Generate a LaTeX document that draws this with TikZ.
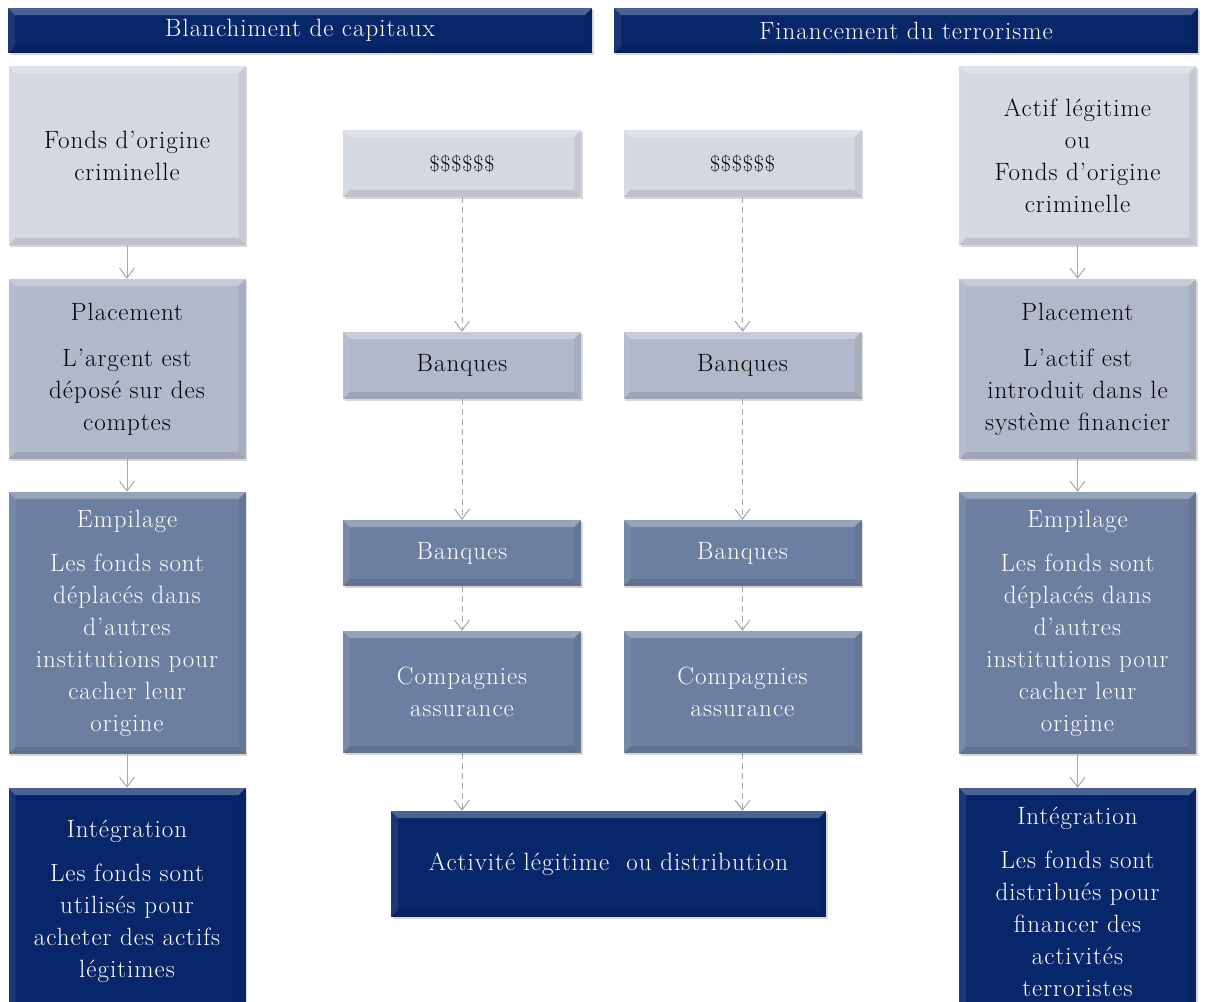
\documentclass[tikz,border=0pt]{standalone}
\usepackage{fontspec}
\setmainfont{Latin Modern Roman}[LetterSpace=4]
\usetikzlibrary{arrows.meta,shadows}
\definecolor{navy}{HTML}{08266A}
\definecolor{lightA}{HTML}{D3D8E1}
\definecolor{lightB}{HTML}{B1B8CA}
\definecolor{midC}{HTML}{6D7FA0}
\definecolor{arrowgray}{HTML}{A8A8A8}
\tikzset{
  bevel/.style={path picture={
    \fill[white,opacity=.28] (path picture bounding box.north west) -- (path picture bounding box.north east)
      -- ([shift={(-7pt,-7pt)}]path picture bounding box.north east) -- ([shift={(7pt,-7pt)}]path picture bounding box.north west) -- cycle;
    \fill[black,opacity=.10] (path picture bounding box.south west) -- (path picture bounding box.south east)
      -- ([shift={(-7pt,7pt)}]path picture bounding box.south east) -- ([shift={(7pt,7pt)}]path picture bounding box.south west) -- cycle;
    \fill[white,opacity=.08] (path picture bounding box.north west) -- ([shift={(7pt,-7pt)}]path picture bounding box.north west)
      -- ([shift={(7pt,7pt)}]path picture bounding box.south west) -- (path picture bounding box.south west) -- cycle;
    \fill[black,opacity=.06] (path picture bounding box.north east) -- ([shift={(-7pt,-7pt)}]path picture bounding box.north east)
      -- ([shift={(-7pt,7pt)}]path picture bounding box.south east) -- (path picture bounding box.south east) -- cycle;
  }},
  card/.style={rectangle, inner sep=0pt, align=center, bevel,
    drop shadow={shadow xshift=1.5pt, shadow yshift=-2pt, opacity=.25, fill=black!60},
    font=\fontsize{25}{32}\selectfont},
  lt/.style={card, text=black},
  dk/.style={card, text=white},
  header/.style={card, fill=navy, text=white, minimum width=584pt, minimum height=45pt,
    font=\fontsize{25}{28}\selectfont},
  side/.style={minimum width=237pt},
  mid/.style={minimum width=238pt},
  dollars/.style={font=\fontsize{22}{24}\selectfont},
  conn/.style={draw=arrowgray, line width=1pt, -{Straight Barb[length=10pt,width=15pt,line width=1pt]}},
  dconn/.style={conn, dash pattern=on 6pt off 4pt},
}
\begin{document}
\begin{tikzpicture}[x=1pt,y=-1pt]
\useasboundingbox[fill=white] (0,0) rectangle (1206,1001);

% headers
\node[header] (h1) at (300,30.5) {Blanchiment de capitaux};
\node[header] (h2) at (906,30.5) {Financement du terrorisme};

% left column
\node[lt, side, fill=lightA, minimum height=179pt] (L1) at (127,155.5) {Fonds d’origine\\criminelle};
\node[lt, side, fill=lightB, minimum height=180pt] (L2) at (127,369) {Placement\\[14pt]L’argent est\\déposé sur des\\comptes};
\node[dk, side, fill=midC, minimum height=262pt] (L3) at (127,623) {Empilage\\[12pt]Les fonds sont\\déplacés dans\\d’autres\\institutions pour\\cacher leur\\origine};
\node[dk, side, fill=navy, minimum height=227pt] (L4) at (127,901.5) {Intégration\\[12pt]Les fonds sont\\utilisés pour\\acheter des actifs\\légitimes};

% right column
\node[lt, side, fill=lightA, minimum height=179pt] (R1) at (1077.5,155.5) {Actif légitime\\ou\\Fonds d’origine\\criminelle};
\node[lt, side, fill=lightB, minimum height=180pt] (R2) at (1077.5,369) {Placement\\[14pt]L’actif est\\introduit dans le\\système financier};
\node[dk, side, fill=midC, minimum height=262pt] (R3) at (1077.5,623) {Empilage\\[12pt]Les fonds sont\\déplacés dans\\d’autres\\institutions pour\\cacher leur\\origine};
\node[dk, side, fill=navy, minimum height=227pt] (R4) at (1077.5,901.5) {Intégration\\[12pt]Les fonds sont\\distribués pour\\financer des\\activités\\terroristes};

% middle column A
\node[lt, mid, dollars, fill=lightA, minimum height=67pt] (A1) at (462,163.5) {\$\$\$\$\$\$};
\node[lt, mid, fill=lightB, minimum height=67pt] (A2) at (462,365.5) {Banques};
\node[dk, mid, fill=midC, minimum height=66pt] (A3) at (462,553) {Banques};
\node[dk, mid, fill=midC, minimum height=122pt] (A4) at (462,692) {Compagnies\\assurance};

% middle column B
\node[lt, mid, dollars, fill=lightA, minimum height=67pt] (B1) at (742.5,163.5) {\$\$\$\$\$\$};
\node[lt, mid, fill=lightB, minimum height=67pt] (B2) at (742.5,365.5) {Banques};
\node[dk, mid, fill=midC, minimum height=66pt] (B3) at (742.5,553) {Banques};
\node[dk, mid, fill=midC, minimum height=122pt] (B4) at (742.5,692) {Compagnies\\assurance};

% bottom middle
\node[dk, fill=navy, minimum width=435pt, minimum height=106pt] (act) at (608.5,864) {Activité légitime\ \ ou distribution};

% connectors
\draw[conn] (L1) -- (L2);
\draw[conn] (L2) -- (L3);
\draw[conn] (L3) -- (L4);
\draw[conn] (R1) -- (R2);
\draw[conn] (R2) -- (R3);
\draw[conn] (R3) -- (R4);
\draw[dconn] (A1) -- (A2);
\draw[dconn] (A2) -- (A3);
\draw[dconn] (A3) -- (A4);
\draw[dconn] (A4.south) -- (A4.south |- act.north);
\draw[dconn] (B1) -- (B2);
\draw[dconn] (B2) -- (B3);
\draw[dconn] (B3) -- (B4);
\draw[dconn] (B4.south) -- (B4.south |- act.north);
\end{tikzpicture}
\end{document}
